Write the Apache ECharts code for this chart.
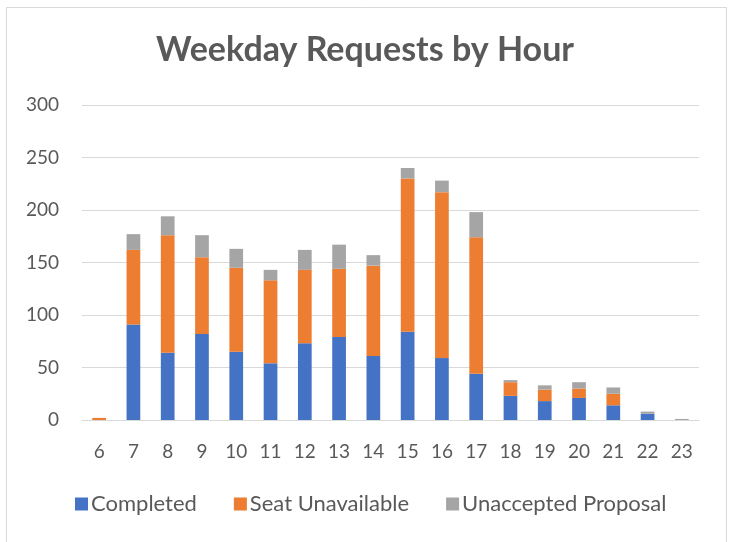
<!DOCTYPE html>
<html>
<head>
<meta charset="utf-8">
<script src="https://cdn.jsdelivr.net/npm/echarts@6/dist/echarts.min.js"></script>
<style>
  html, body { margin: 0; padding: 0; background: #ffffff; }
  #chart { width: 730px; height: 542px; }
</style>
</head>
<body>
<div id="chart"></div>
<script>
// Hours of the weekday (24h clock)
const hours = ['6', '7', '8', '9', '10', '11', '12', '13', '14', '15', '16', '17', '18', '19', '20', '21', '22', '23'];

// Request counts per hour, by outcome
const completed           = [0, 91, 64, 82, 65, 54, 73, 79, 61, 84, 59, 44, 23, 18, 21, 14, 6, 0];
const seatUnavailable     = [2, 71, 112, 73, 80, 79, 70, 65, 86, 146, 158, 130, 13, 11, 9, 11, 0, 0];
const unacceptedProposal  = [0, 15, 18, 21, 18, 10, 19, 23, 10, 10, 11, 24, 2, 4, 6, 6, 2, 1];

const yTicks = { min: 0, max: 300, step: 50 };

const textColor = '#595959';
const fontFamily = 'Lato, "Open Sans", sans-serif';

const chart = echarts.init(document.getElementById('chart'));

function stackSeries(name, data, color) {
  return {
    name: name,
    type: 'bar',
    stack: 'requests',
    data: data,
    barWidth: '40%',
    itemStyle: { color: color },
    emphasis: { disabled: true }
  };
}

chart.setOption({
  animation: false,
  backgroundColor: '#ffffff',
  textStyle: { fontFamily: fontFamily },
  title: {
    text: 'Weekday Requests by Hour',
    left: 'center',
    top: 28,
    textStyle: {
      color: textColor,
      fontSize: 34,
      fontWeight: 'bold',
      fontFamily: fontFamily
    }
  },
  graphic: [{
    type: 'rect',
    silent: true,
    shape: { x: 6.5, y: 7.5, width: 720, height: 560 },
    style: { fill: 'none', stroke: '#d9d9d9', lineWidth: 1 }
  }],
  legend: {
    top: 488,
    left: 70,
    itemWidth: 13,
    itemHeight: 13,
    itemGap: 37,
    icon: 'rect',
    textStyle: { color: textColor, fontSize: 22, fontFamily: fontFamily, padding: [0, 0, 0, -2] },
    data: ['Completed', 'Seat Unavailable', 'Unaccepted Proposal']
  },
  grid: {
    left: 82,
    right: 31,
    top: 105,
    bottom: 122
  },
  xAxis: {
    type: 'category',
    data: hours,
    axisLine: { show: true, lineStyle: { color: '#d9d9d9', width: 1 } },
    axisTick: { show: false },
    axisLabel: { color: textColor, fontSize: 19, margin: 22, fontFamily: fontFamily }
  },
  yAxis: {
    type: 'value',
    min: yTicks.min,
    max: yTicks.max,
    interval: yTicks.step,
    axisLine: { show: false },
    axisTick: { show: false },
    splitLine: { lineStyle: { color: '#d9d9d9', width: 1 } },
    axisLabel: { color: textColor, fontSize: 19, margin: 23, fontFamily: fontFamily }
  },
  series: [
    stackSeries('Completed', completed, '#4472C4'),
    stackSeries('Seat Unavailable', seatUnavailable, '#ED7D31'),
    stackSeries('Unaccepted Proposal', unacceptedProposal, '#A5A5A5')
  ]
});
</script>
</body>
</html>
